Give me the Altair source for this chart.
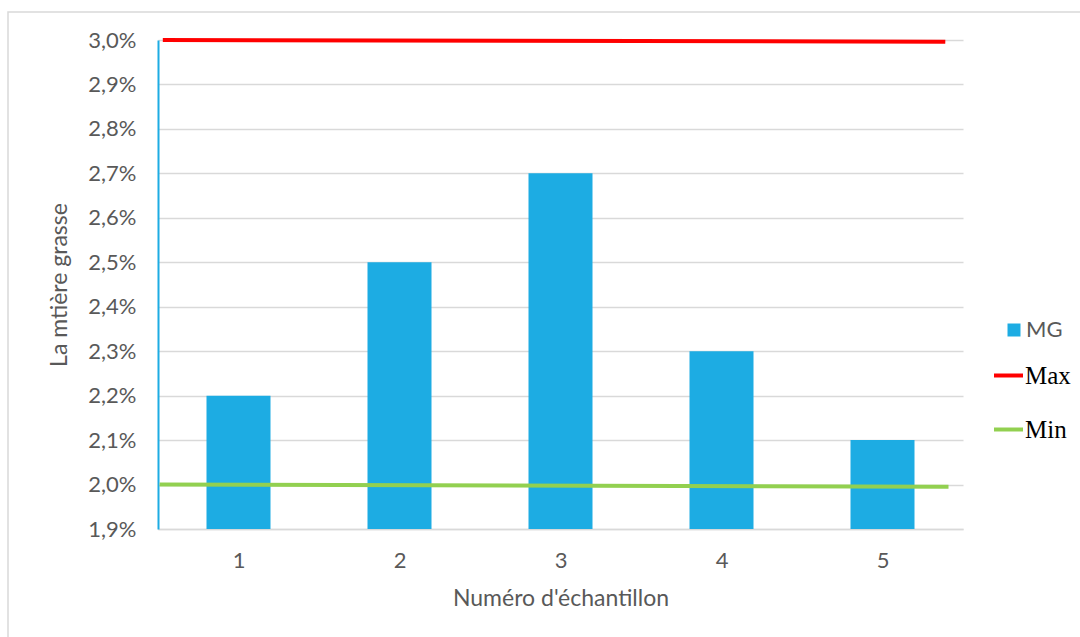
import altair as alt
import pandas as pd

# Sample numbers and fat content (%)
samples = [1, 2, 3, 4, 5]
mg_values = [2.2, 2.5, 2.7, 2.3, 2.1]

# Upper and lower limit lines (start / end points)
max_x = [0.53, 5.39]
max_y = [3.0, 2.996]
min_x = [0.51, 5.41]
min_y = [2.0, 1.995]

y_ticks = [1.9, 2.0, 2.1, 2.2, 2.3, 2.4, 2.5, 2.6, 2.7, 2.8, 2.9, 3.0]

BLUE = "#1DACE3"
RED = "#FF0000"
GREEN = "#92D050"
GREY_TEXT = "#595959"
GRID = "#D9D9D9"
SANS = "Lato"

bars_df = pd.DataFrame({"n": samples, "mg": mg_values, "serie": ["MG"] * len(samples)})
lines_df = pd.DataFrame({
    "n": max_x + min_x,
    "v": max_y + min_y,
    "serie": ["Max"] * len(max_x) + ["Min"] * len(min_x),
})

x_scale = alt.Scale(domain=[0.5, 5.5], nice=False, zero=False, padding=0)
y_scale = alt.Scale(domain=[1.9, 3.0], nice=False, zero=False)

# Light outer frame of the chart area
frame = alt.Chart(pd.DataFrame({"k": [0]})).mark_rect(
    filled=False, stroke=GRID, strokeWidth=1.5
).encode(
    x=alt.value(-150), x2=alt.value(940),
    y=alt.value(-28), y2=alt.value(620),
)

bars = alt.Chart(bars_df).mark_bar(size=64, clip=True).encode(
    x=alt.X(
        "n:Q", scale=x_scale,
        axis=alt.Axis(
            values=samples, format="d", grid=False, ticks=False,
            domainColor=GRID, domainWidth=1.5,
            labelFont=SANS, labelFontSize=22, labelColor=GREY_TEXT, labelPadding=21,
            title="Numéro d'échantillon", titleFont=SANS, titleFontSize=23,
            titleFontWeight="normal", titleColor=GREY_TEXT, titlePadding=16,
        ),
    ),
    y=alt.Y(
        "mg:Q", scale=y_scale,
        axis=alt.Axis(
            values=y_ticks,
            labelExpr="replace(format(datum.value, '.1f'), '.', ',') + '%'",
            grid=True, gridColor=GRID, gridWidth=1.5, ticks=False,
            domainColor=BLUE, domainWidth=2,
            labelFont=SANS, labelFontSize=22, labelColor=GREY_TEXT, labelPadding=22,
            title="La mtière grasse", titleFont=SANS, titleFontSize=23,
            titleFontWeight="normal", titleColor=GREY_TEXT, titlePadding=16,
        ),
    ),
    fill=alt.Fill(
        "serie:N",
        scale=alt.Scale(domain=["MG"], range=[BLUE]),
        legend=alt.Legend(
            orient="none", legendX=845, legendY=279, title=None, padding=0,
            symbolType="square", symbolSize=169, symbolStrokeWidth=0,
            labelFont=SANS, labelFontSize=22, labelColor=GREY_TEXT, labelOffset=1,
        ),
    ),
)

lines = alt.Chart(lines_df).mark_line(strokeWidth=4).encode(
    x=alt.X("n:Q", scale=x_scale),
    y=alt.Y("v:Q", scale=y_scale),
    detail="serie:N",
    stroke=alt.Stroke(
        "serie:N",
        scale=alt.Scale(domain=["Max", "Min"], range=[RED, GREEN]),
        legend=alt.Legend(
            orient="none", legendX=834, legendY=319, title=None, padding=0,
            symbolType="stroke", symbolSize=841, symbolStrokeWidth=4,
            labelFont="Liberation Serif", labelFontSize=25, labelColor="black",
            labelOffset=0, rowPadding=24,
        ),
    ),
)

chart = alt.layer(frame, bars, lines).resolve_scale(
    fill="independent", stroke="independent"
).properties(
    width=805, height=489,
    autosize=alt.AutoSizeParams(type="none"),
    padding={"left": 158, "top": 40, "right": 117, "bottom": 108},
    background="white",
).configure_view(stroke=None)

chart.save("out.html", embed_options={"renderer": "svg", "actions": False})
